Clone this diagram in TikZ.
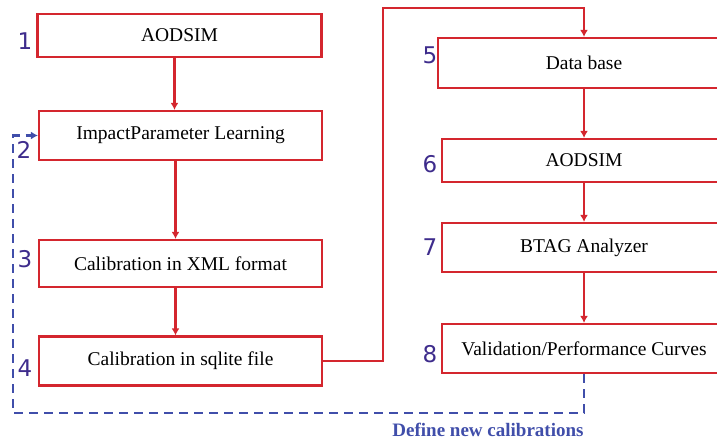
\documentclass[tikz,border=0pt]{standalone}
\usepackage{fontspec}
\setmainfont{Liberation Serif}
\newfontfamily\numfont{DejaVu Sans}
\usepackage{xcolor}
\usetikzlibrary{arrows.meta, positioning}

\definecolor{flowred}{RGB}{212,38,46}
\definecolor{loopblue}{RGB}{64,78,170}
\definecolor{stepnum}{RGB}{62,44,140}

\tikzset{
  stage/.style={draw=flowred, line width=2.2pt, rectangle, inner sep=0pt,
    font=\fontsize{19.5}{23}\selectfont},
  stepno/.style={text=stepnum, font=\numfont\fontsize{23}{26}\selectfont},
  flow/.style={draw=flowred, line width=2.2pt, -{Latex[length=7pt,width=8pt]}},
  feedback/.style={draw=loopblue, line width=2.2pt, dash pattern=on 9pt off 6pt,
    -{Latex[length=7pt,width=8pt]}}
}

\begin{document}
\begin{tikzpicture}[x=1pt, y=-1pt]
        \useasboundingbox (0,0) rectangle (717,441);
        \clip (0,0) rectangle (717,441);

        % Left column
        \node (aod) [stage, minimum width=284pt, minimum height=43pt] at (179.5,35.5) {AODSIM};
        \node (ipl) [stage, minimum width=283pt, minimum height=49pt] at (180.5,135.5) {ImpactParameter Learning};
        \node (xml) [stage, minimum width=283pt, minimum height=47pt] at (180.5,263.5) {Calibration in XML format};
        \node (sql) [stage, minimum width=283pt, minimum height=49pt] at (180.5,361) {Calibration in sqlite file};

        % Right column
        \node (dbase) [stage, minimum width=292pt, minimum height=50pt] at (584,63) {Data base};
        \node (aodb) [stage, minimum width=284pt, minimum height=43pt] at (584,160.5) {AODSIM};
        \node (btag) [stage, minimum width=284pt, minimum height=49pt] at (584,247.5) {BTAG Analyzer};
        \node (valid) [stage, minimum width=284pt, minimum height=49pt] at (584,348.5) {Validation/Performance Curves};

        % Step numbers
        \node (n1) [stepno] at (25,41) {1};
        \node (n2) [stepno] at (24,150) {2};
        \node (n3) [stepno] at (25,259) {3};
        \node (n4) [stepno] at (25,368) {4};
        \node (n5) [stepno] at (430,55) {5};
        \node (n6) [stepno] at (430,164) {6};
        \node (n7) [stepno] at (430,247) {7};
        \node (n8) [stepno] at (430,354) {8};

        % Arrows
        \draw[flow] ([xshift=-5pt]aod.south) -- ([xshift=-5pt]aod.south |- ipl.north);
        \draw[flow] ([xshift=-5pt]ipl.south) -- ([xshift=-5pt]ipl.south |- xml.north);
        \draw[flow] ([xshift=-5pt]xml.south) -- ([xshift=-5pt]xml.south |- sql.north);
        \coordinate (over) at (383,8);
        \draw[flow] (sql.east) -| (over) -| (dbase.north);
        \draw[flow] (dbase) -- (aodb);
        \draw[flow] (aodb) -- (btag);
        \draw[flow] (btag) -- (valid);

        % Feedback loop
        \coordinate (corner) at (13,413);
        \draw[feedback] (valid.south) |- (corner) |- (ipl.west);
        \node (newcal) [text=loopblue, font=\bfseries\fontsize{19}{22}\selectfont] at (488,430) {Define new calibrations};
    \end{tikzpicture}
\end{document}
